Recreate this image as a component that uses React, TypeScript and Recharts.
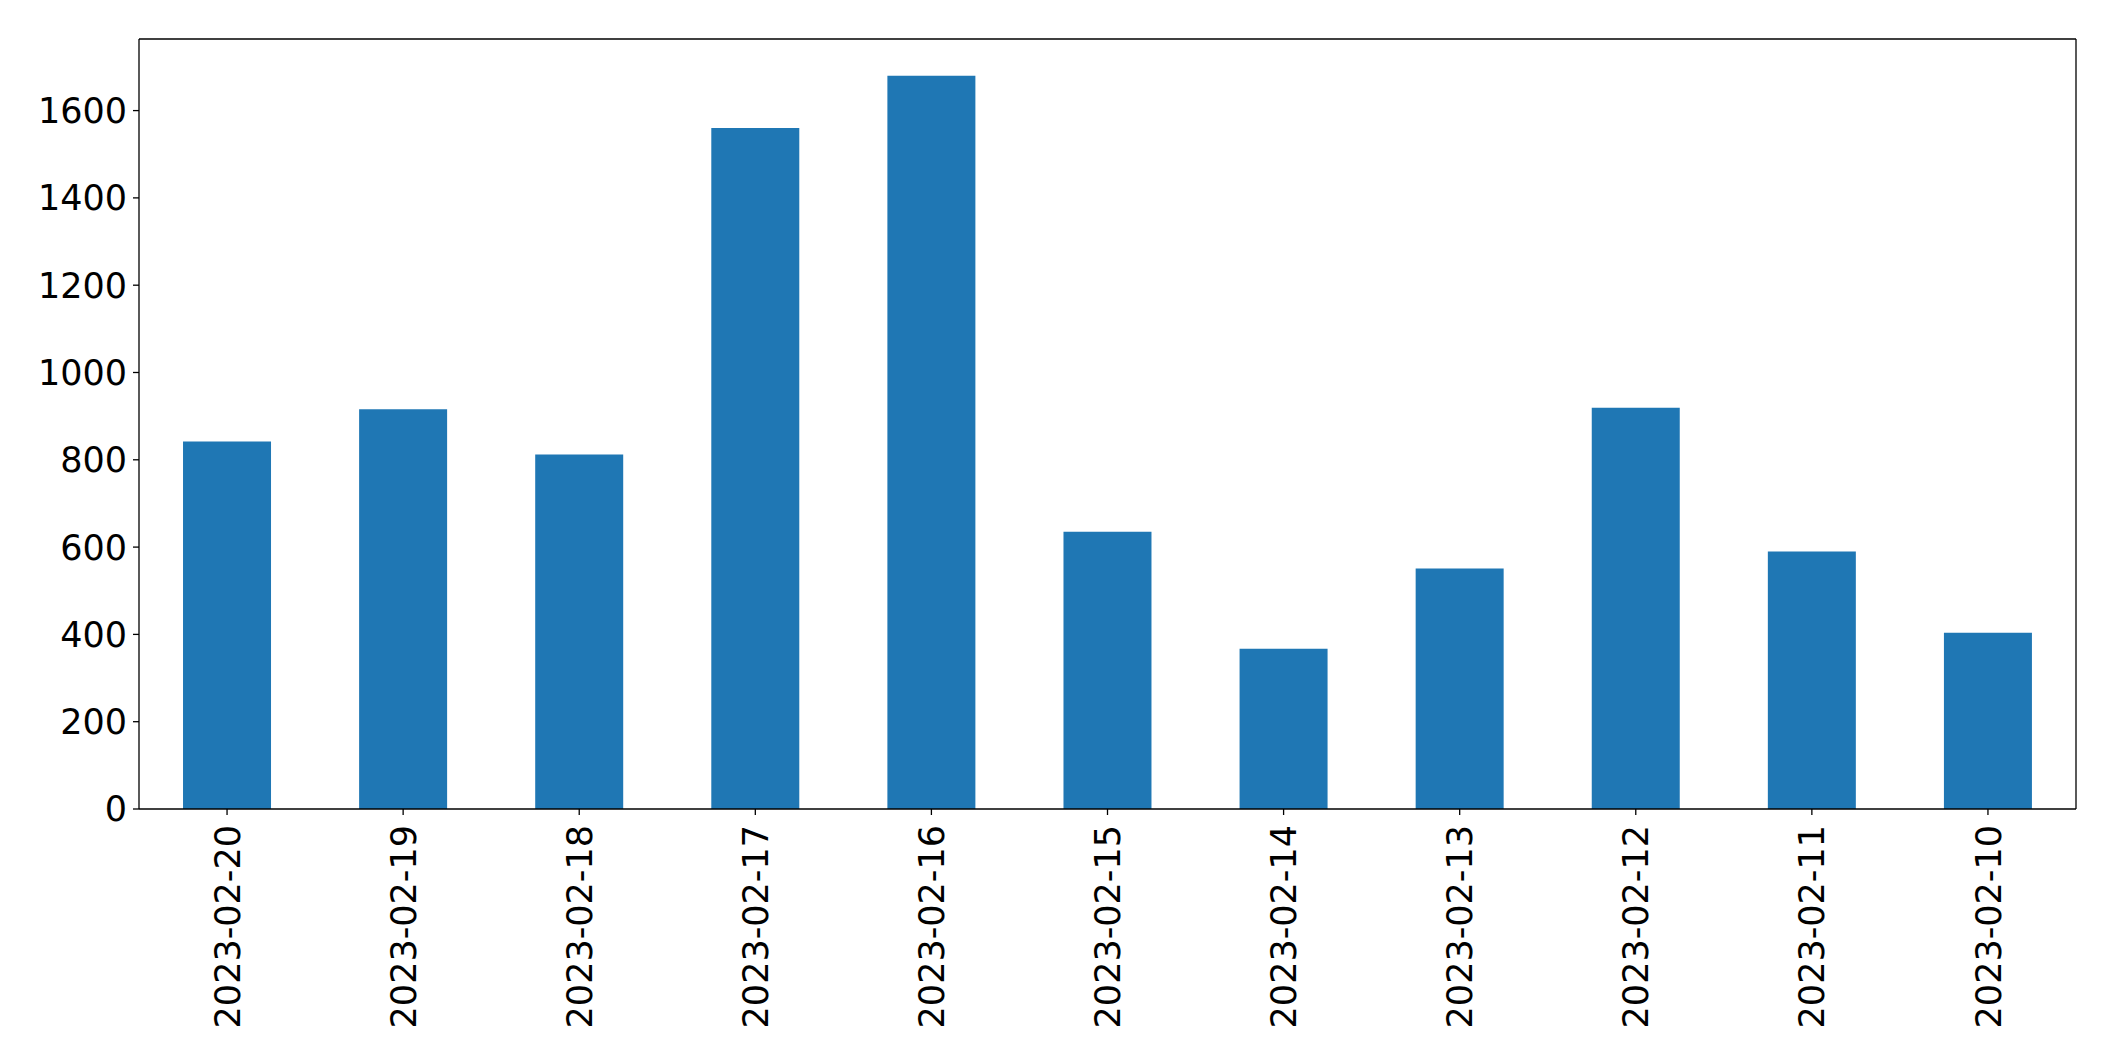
import { Bar, BarChart, XAxis, YAxis } from "recharts"

const dates = [
  "2023-02-20",
  "2023-02-19",
  "2023-02-18",
  "2023-02-17",
  "2023-02-16",
  "2023-02-15",
  "2023-02-14",
  "2023-02-13",
  "2023-02-12",
  "2023-02-11",
  "2023-02-10",
]

const counts = [842, 916, 812, 1560, 1680, 635, 367, 551, 919, 590, 404]

const yTicks = [0, 200, 400, 600, 800, 1000, 1200, 1400, 1600]

const data = dates.map((date, i) => ({ date, count: counts[i] }))

const font = "'DejaVu Sans', sans-serif"

function DateTick(props: any) {
  const { x, y, payload } = props
  return (
    <text
      transform={`translate(${x},${y}) rotate(-90)`}
      textAnchor="end"
      dy="0.36em"
      fontSize={35}
      fontFamily={font}
      fill="#000"
    >
      {payload.value}
    </text>
  )
}

export default function App() {
  return (
    <div style={{ position: "absolute", left: 0, top: 0, background: "#fff" }}>
      <BarChart
        width={2115}
        height={1061}
        data={data}
        margin={{ top: 38, right: 38, bottom: 12, left: 0 }}
        barCategoryGap="25%"
      >
        <XAxis
          dataKey="date"
          interval={0}
          height={240}
          stroke="#000"
          strokeWidth={1.3}
          tickSize={6}
          tickMargin={10}
          tick={<DateTick />}
        />
        <XAxis
          xAxisId="top"
          dataKey="date"
          orientation="top"
          height={1}
          tick={false}
          tickLine={false}
          stroke="#000"
          strokeWidth={1.3}
        />
        <YAxis
          domain={[0, 1764]}
          ticks={yTicks}
          width={139}
          stroke="#000"
          strokeWidth={1.3}
          tickSize={6}
          tickMargin={6}
          tick={{ fontSize: 35, fontFamily: font, fill: "#000" }}
        />
        <YAxis
          yAxisId="right"
          orientation="right"
          domain={[0, 1764]}
          width={1}
          tick={false}
          tickLine={false}
          stroke="#000"
          strokeWidth={1.3}
        />
        <Bar dataKey="count" fill="#1f77b4" isAnimationActive={false} />
      </BarChart>
    </div>
  )
}
